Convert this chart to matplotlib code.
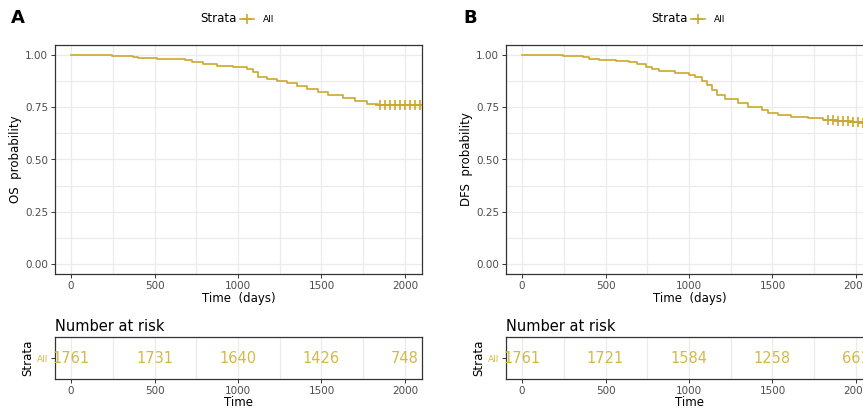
import numpy as np
import matplotlib.pyplot as plt
from matplotlib.lines import Line2D

# Kaplan-Meier step values (days, probability)
os_time = [0, 244, 373, 403, 513, 683, 723, 793, 872, 972, 1052, 1092, 1122,
           1172, 1232, 1292, 1352, 1412, 1481, 1541, 1631, 1701, 1771, 1840]
os_surv = [1.0, 0.998, 0.994, 0.987, 0.982, 0.976, 0.966, 0.958, 0.950, 0.942,
           0.934, 0.918, 0.897, 0.889, 0.878, 0.868, 0.853, 0.840, 0.822,
           0.808, 0.795, 0.780, 0.766, 0.761]
os_censor = [1850, 1880, 1910, 1940, 1970, 2000, 2030, 2060, 2090]

dfs_time = [0, 244, 363, 403, 462, 562, 641, 691, 740, 780, 820, 919, 998,
            1038, 1077, 1107, 1137, 1167, 1217, 1296, 1355, 1435, 1474, 1533,
            1613, 1712, 1800, 1880, 1960, 2040]
dfs_surv = [1.0, 0.997, 0.990, 0.984, 0.979, 0.974, 0.968, 0.958, 0.946, 0.936,
            0.926, 0.917, 0.907, 0.894, 0.878, 0.857, 0.833, 0.812, 0.790,
            0.769, 0.753, 0.737, 0.721, 0.713, 0.705, 0.697, 0.690, 0.684,
            0.679, 0.675]
dfs_censor = [1830, 1860, 1890, 1920, 1950, 1980, 2010, 2040, 2070, 2100]

risk_times = [0, 500, 1000, 1500, 2000]
os_risk = [1761, 1731, 1640, 1426, 748]
dfs_risk = [1761, 1721, 1584, 1258, 661]

line_col = "#CBA82E"
risk_col = "#D2BA48"
grid_col = "#EBEBEB"
tick_col = "#4D4D4D"
border_col = "#333333"

W, H = 863, 411
fig = plt.figure(figsize=(W / 100, H / 100), dpi=100)
fig.patch.set_facecolor("white")


def box(x0, y0, x1, y1):
    # pixel box (from top-left) -> figure fraction rect
    return [x0 / W, 1 - y1 / H, (x1 - x0) / W, (y1 - y0) / H]


def style(ax):
    ax.set_xlim(-96, 2102)
    ax.set_xticks(risk_times)
    ax.set_xticks([250, 750, 1250, 1750], minor=True)
    ax.grid(which="both", color=grid_col, linewidth=0.9)
    ax.set_axisbelow(True)
    ax.tick_params(which="minor", length=0)
    ax.tick_params(which="major", length=3, width=0.7, colors=border_col,
                   labelcolor=tick_col, labelsize=7.5, pad=2)
    for s in ax.spines.values():
        s.set_color(border_col)
        s.set_linewidth(0.9)


def panel(x0, letter, letter_x, ylabel, t, s, cens, risk):
    ax = fig.add_axes(box(x0, 45, x0 + 367, 274))
    style(ax)
    ax.set_ylim(-0.05, 1.05)
    ax.set_yticks([0, 0.25, 0.5, 0.75, 1.0])
    ax.set_yticklabels(["0.00", "0.25", "0.50", "0.75", "1.00"])
    ax.set_yticks([0.125, 0.375, 0.625, 0.875], minor=True)
    # step curve extends to the last censored time
    ax.step(t + [cens[-1]], s + [s[-1]], where="post", color=line_col, lw=1.2)
    idx = np.searchsorted(t, cens, side="right") - 1
    ax.plot(cens, np.array(s)[idx], ls="none", marker="+", ms=7, mew=1.2,
            color=line_col)
    ax.set_xlabel("Time  (days)", fontsize=8.5, labelpad=1)
    ax.set_ylabel(ylabel, fontsize=8.5, labelpad=2)

    # legend above the panel, drawn by hand: "Strata  -+-  All"
    ly = 1 - 19 / H
    fig.text((x0 + 145) / W, ly, "Strata", fontsize=8.5, va="center",
             ha="left")
    fig.add_artist(Line2D([(x0 + 185) / W, (x0 + 199) / W], [ly, ly],
                          color=line_col, lw=1.2))
    fig.add_artist(Line2D([(x0 + 192) / W], [ly], color=line_col, marker="+",
                          ms=7, mew=1.2))
    fig.text((x0 + 208) / W, ly, "All", fontsize=6.5, va="center", ha="left")

    fig.text(letter_x / W, 1 - 18 / H, letter, fontsize=13, fontweight="bold",
             va="center", ha="left")

    # number at risk table
    rx = fig.add_axes(box(x0, 337, x0 + 367, 379))
    style(rx)
    rx.set_ylim(0, 1)
    rx.set_yticks([0.5])
    rx.set_yticklabels(["All"])
    rx.get_yticklabels()[0].set_color(risk_col)
    rx.tick_params(axis="y", labelsize=6.5)
    rx.grid(axis="y", visible=False)
    for xt, n in zip(risk_times, risk):
        rx.text(xt, 0.5, str(n), color=risk_col, fontsize=10.5,
                ha="center", va="center")
    rx.set_xlabel("Time", fontsize=8.5, labelpad=0)
    rx.set_ylabel("Strata", fontsize=8.5, labelpad=2)
    rx.set_title("Number at risk", loc="left", fontsize=10.5, pad=4)


panel(55, "A", 11, "OS  probability", os_time, os_surv, os_censor, os_risk)
panel(506, "B", 463, "DFS  probability", dfs_time, dfs_surv, dfs_censor,
      dfs_risk)

fig.savefig("out.png", dpi=100)
